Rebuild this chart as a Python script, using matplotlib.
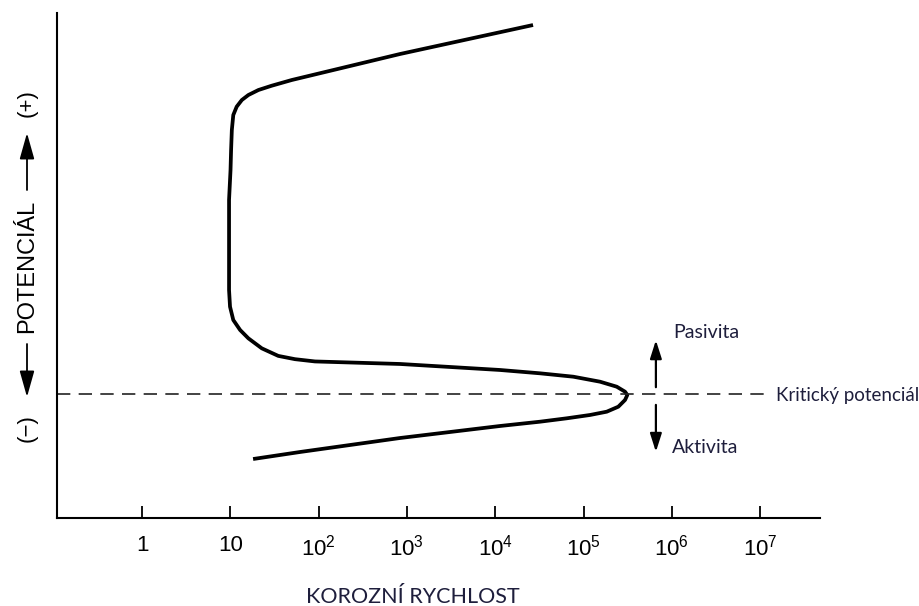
import matplotlib
matplotlib.use("Agg")
import matplotlib.pyplot as plt
from matplotlib.patches import FancyArrowPatch
from matplotlib.ticker import FixedLocator, FixedFormatter, NullLocator

# ---- data ----
# corrosion rate (log axis) and potential (arbitrary units, 0 = bottom of axis)
curve_rate = [18.1, 61.6, 835, 11340, 32170, 64520, 118500, 183100, 247800, 295100,
              313300, 295100, 237700, 153800, 76640, 32170, 11340, 835, 91.0, 54.0,
              34.9, 22.7, 16.0, 12.9, 10.8, 9.92, 9.67, 9.67, 9.67, 10.05,
              10.2, 10.4, 10.8, 11.8, 13.5, 16.0, 20.8, 29.4, 49.6, 835, 26800]
curve_pot = [11.68, 13.07, 15.84, 18.22, 19.07, 19.74, 20.40, 21.05, 22.04, 23.37,
             24.36, 25.01, 26.00, 26.99, 27.98, 28.65, 29.31, 30.50, 31.00, 31.45,
             32.10, 33.60, 35.58, 37.23, 39.21, 41.84, 45.15, 53.07, 62.97, 68.91,
             72.87, 76.83, 79.80, 81.45, 82.77, 83.76, 84.75, 85.60, 86.73, 91.88, 97.62]
critical_potential = 24.5
tick_values = [1, 10, 1e2, 1e3, 1e4, 1e5, 1e6, 1e7]
tick_labels = ["1", "10", r"$10^{2}$", r"$10^{3}$", r"$10^{4}$", r"$10^{5}$", r"$10^{6}$", r"$10^{7}$"]

plt.rcParams['mathtext.fontset'] = 'custom'
plt.rcParams['mathtext.rm'] = 'Liberation Sans'
plt.rcParams['mathtext.it'] = 'Liberation Sans'
plt.rcParams['font.family'] = ['Liberation Sans', 'DejaVu Sans']

W, H = 920, 606
fig = plt.figure(figsize=(W / 100, H / 100), dpi=100)
ax = fig.add_axes([57 / W, (H - 518) / H, (820 - 57) / W, (518 - 13) / H])

ax.set_xscale('log')
xmin, xmax = 10 ** -0.963, 10 ** 7.678
ax.set_xlim(xmin, xmax)
ax.set_ylim(0, 100)

ax.plot(curve_rate, curve_pot, color='black', lw=2.7, solid_capstyle='butt',
        solid_joinstyle='round')

# critical potential dashed line
ax.plot([xmin, 1.17e7], [critical_potential, critical_potential], color='#222222',
        lw=1.2, dashes=(8, 5))

# arrows
arrow_x = 6.6e5
for y0, y1 in [(25.9, 35.2), (22.4, 13.1)]:
    ax.annotate('', xy=(arrow_x, y1), xytext=(arrow_x, y0),
                arrowprops=dict(arrowstyle='-|>,head_length=1.1,head_width=0.35',
                                color='black', lw=1.6, shrinkA=0, shrinkB=0))

tcol = '#1e1e3c'
cal = ['Lato', 'DejaVu Sans']
ax.text(1.03e6, 36.8, 'Pasivita', family=cal, fontsize=14, color=tcol,
        va='center', ha='left')
ax.text(1.0e6, 13.9, 'Aktivita', family=cal, fontsize=14, color=tcol,
        va='center', ha='left')
ax.text(1.51e7, 24.3, 'Kritický potenciál', family=cal, fontsize=13.5, color=tcol,
        va='center', ha='left', clip_on=False)

# axes styling
for s in ['top', 'right']:
    ax.spines[s].set_visible(False)
for s in ['left', 'bottom']:
    ax.spines[s].set_linewidth(1.5)
ax.xaxis.set_major_locator(FixedLocator(tick_values))
ax.xaxis.set_major_formatter(FixedFormatter(tick_labels))
ax.xaxis.set_minor_locator(NullLocator())
ax.tick_params(axis='x', direction='in', length=9, width=1.3, pad=12,
               labelsize=16, colors='black')
ax.set_yticks([])

# x-axis title
fig.text(413 / W, 1 - 597 / H, 'KOROZNÍ RYCHLOST', family=cal, fontsize=15.5,
         color=tcol, ha='center', va='center')

# y-axis title pieces
yx = 27 / W
fig.text(yx, 1 - 103 / H, '(+)', fontsize=16, rotation=90, ha='center', va='center')
fig.text(yx, 1 - 266 / H, 'POTENCIÁL', fontsize=17, rotation=90, ha='center', va='center')
fig.text(yx, 1 - 428 / H, '(−)', fontsize=16, rotation=90, ha='center', va='center')
for (a, b) in [(190, 133), (344, 397)]:
    fig.add_artist(FancyArrowPatch(
        (yx, 1 - a / H), (yx, 1 - b / H), transform=fig.transFigure,
        arrowstyle='-|>,head_length=1.6,head_width=0.45', mutation_scale=10,
        color='black', lw=1.3, shrinkA=0, shrinkB=0))

fig.savefig('out.png', dpi=100)
